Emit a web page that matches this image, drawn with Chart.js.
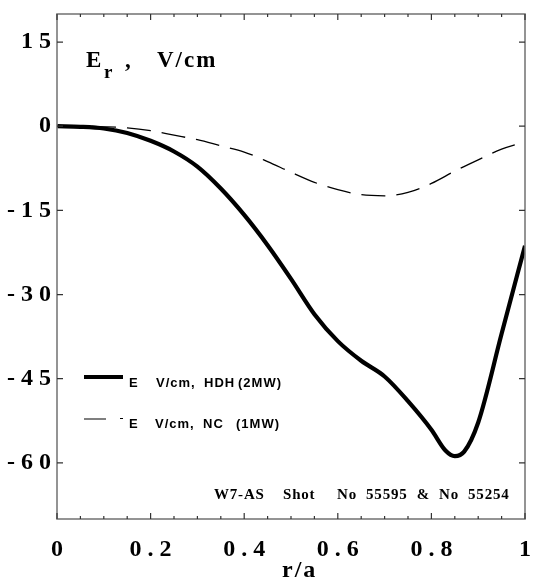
<!DOCTYPE html>
<html><head><meta charset="utf-8">
<script src="https://cdn.jsdelivr.net/npm/chart.js@4"></script>
<style>html,body{margin:0;padding:0;background:#fff}</style>
</head><body>
<canvas id="c" width="533" height="584"></canvas>
<script>
const radiusHDH = [0,0.05,0.1,0.15,0.2,0.25,0.3,0.35,0.4,0.45,0.5,0.55,0.6,0.65,0.7,0.75,0.8,0.83,0.85,0.87,0.9,0.95,1];
const erHDH = [0,-0.1,-0.4,-1.2,-2.6,-4.5,-7.2,-11.1,-15.8,-21.2,-27.2,-33.5,-38.3,-41.8,-44.6,-49.0,-54.1,-57.8,-58.8,-58.0,-52.8,-37.0,-21.3];
const radiusNC = [0,0.05,0.1,0.15,0.2,0.25,0.3,0.35,0.4,0.45,0.5,0.55,0.6,0.65,0.7,0.75,0.8,0.85,0.9,0.95,1];
const erNC = [0,0,-0.1,-0.3,-0.8,-1.6,-2.4,-3.5,-4.6,-6.3,-8.2,-10.0,-11.3,-12.2,-12.4,-11.8,-10.2,-8.0,-6.0,-4.1,-2.8];
const xTickValues = [0,0.2,0.4,0.6,0.8,1];
const xTickLabels = ['0','0 . 2','0 . 4','0 . 6','0 . 8','1'];
const yTickValues = [-60,-45,-30,-15,0,15];
const yTickLabels = ['- 6 0','- 4 5','- 3 0','- 1 5','0','1 5'];
const seriesLabels = ['HDH (2MW)','NC (1MW)'];

const AXIS_GRAY = '#7a7a7a';
const SERIF = '"Liberation Serif","DejaVu Serif",serif';
const SANS = '"Liberation Sans",Arial,sans-serif';

const framePlugin = {
  id:'frame',
  afterDatasetsDraw(chart){
    const {ctx, chartArea:a, scales:{x,y}} = chart;
    ctx.save();
    ctx.strokeStyle = AXIS_GRAY; ctx.lineWidth = 1.6;
    ctx.strokeRect(a.left, a.top, a.right-a.left, a.bottom-a.top);
    ctx.strokeStyle = '#333'; ctx.lineWidth = 1.2;
    ctx.beginPath();
    for (let i=0;i<=20;i++){
      const v = i*0.05; const px = x.getPixelForValue(v);
      const len = (i%4===0) ? 6 : 3;
      ctx.moveTo(px, a.bottom); ctx.lineTo(px, a.bottom-len);
      ctx.moveTo(px, a.top); ctx.lineTo(px, a.top+len);
    }
    yTickValues.forEach(v=>{
      const py = y.getPixelForValue(v);
      ctx.moveTo(a.left, py); ctx.lineTo(a.left+6, py);
      ctx.moveTo(a.right, py); ctx.lineTo(a.right-6, py);
    });
    ctx.stroke();
    ctx.restore();
  },
  afterDraw(chart){
    const ctx = chart.ctx;
    ctx.save();
    ctx.fillStyle = '#000';
    ctx.textBaseline = 'alphabetic';
    // title
    ctx.letterSpacing = '1px';
    ctx.font = 'bold 23px ' + SERIF;
    ctx.fillText('E', 86, 67);
    ctx.fillText(',', 125, 67);
    ctx.letterSpacing = '2px';
    ctx.fillText('V/cm', 157, 67);
    ctx.letterSpacing = '0px';
    ctx.font = 'bold 19px ' + SERIF;
    ctx.fillText('r', 104, 78);
    // axis title
    ctx.letterSpacing = '2px';
    ctx.font = 'bold 24px ' + SERIF;
    ctx.fillText('r/a', 282, 577);
    // annotation
    ctx.letterSpacing = '0.8px';
    ctx.font = 'bold 15px ' + SERIF;
    ctx.fillText('W7-AS', 214, 499);
    ctx.fillText('Shot', 283, 499);
    ctx.fillText('No  55595  &  No  55254', 337, 499);
    // legend
    ctx.letterSpacing = '1px';
    ctx.font = 'bold 13px ' + SANS;
    ctx.fillText('E', 129, 387);
    ctx.fillText('V/cm,', 156, 387);
    ctx.fillText('HDH', 204, 387);
    ctx.fillText('(2MW)', 238, 387);
    ctx.fillText('E', 129, 428);
    ctx.fillText('V/cm,', 155, 428);
    ctx.fillText('NC', 203, 428);
    ctx.fillText('(1MW)', 236, 428);
    ctx.lineWidth = 4; ctx.strokeStyle = '#000';
    ctx.beginPath(); ctx.moveTo(84,377); ctx.lineTo(123,377); ctx.stroke();
    ctx.lineWidth = 1.2;
    ctx.beginPath(); ctx.moveTo(84,419); ctx.lineTo(106,419); ctx.moveTo(120,418.5); ctx.lineTo(123,418.5); ctx.stroke();
    ctx.restore();
  }
};

new Chart(document.getElementById('c'), {
  type:'line',
  data:{
    datasets:[
      {label:seriesLabels[0], data:radiusHDH.map((r,i)=>({x:r,y:erHDH[i]})), borderColor:'#000', borderWidth:4.2, pointRadius:0, cubicInterpolationMode:'monotone', fill:false},
      {label:seriesLabels[1], data:radiusNC.map((r,i)=>({x:r,y:erNC[i]})), borderColor:'#000', borderWidth:1.3, borderDash:[24,11], pointRadius:0, cubicInterpolationMode:'monotone', fill:false}
    ]
  },
  options:{
    responsive:false, animation:false, devicePixelRatio:1,
    layout:{padding:{left:0,top:14,right:8,bottom:0}},
    plugins:{legend:{display:false}, tooltip:{enabled:false}},
    scales:{
      x:{type:'linear', min:0, max:1,
        afterBuildTicks(s){ s.ticks = xTickValues.map(v=>({value:v})); },
        afterFit(s){ s.height = 65; s.paddingLeft = 0; s.paddingRight = 0; },
        grid:{display:false, drawTicks:false}, border:{display:false},
        ticks:{padding:16, color:'#000', maxRotation:0, autoSkip:false,
          font:{family:SERIF, size:24, weight:'bold'},
          callback(v){ const i = xTickValues.indexOf(v); return i>=0 ? xTickLabels[i] : ''; }}
      },
      y:{type:'linear', min:-70, max:20,
        afterBuildTicks(s){ s.ticks = yTickValues.map(v=>({value:v})); },
        afterFit(s){ s.width = 57; s.paddingTop = 0; s.paddingBottom = 0; },
        grid:{display:false, drawTicks:false}, border:{display:false},
        ticks:{padding:6, color:'#000', autoSkip:false,
          font:{family:SERIF, size:24, weight:'bold'},
          callback(v){ const i = yTickValues.indexOf(v); return i>=0 ? yTickLabels[i] : ''; }}
      }
    }
  },
  plugins:[framePlugin]
});
</script>
</body></html>
